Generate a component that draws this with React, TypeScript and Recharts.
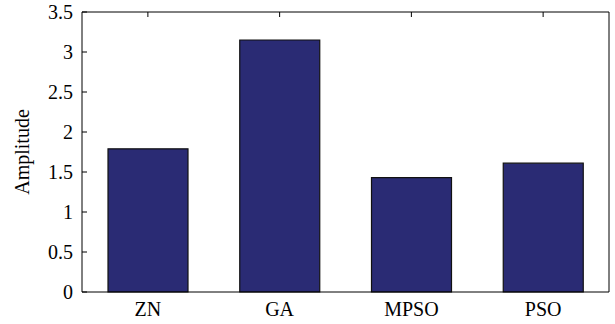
// @ts-nocheck
import { BarChart, Bar, XAxis, YAxis } from 'recharts';

const categories = ['ZN', 'GA', 'MPSO', 'PSO'];
const amplitudes = [1.79, 3.15, 1.43, 1.61];
const yTicks = [0, 0.5, 1, 1.5, 2, 2.5, 3, 3.5];

const data = categories.map((name, i) => ({ name, amplitude: amplitudes[i] }));

const FONT = '"Liberation Serif", "Times New Roman", serif';
const FONT_SIZE = 20;
const TICK_LEN = 5;
const Y_GAP = 9;

// left axis: label plus a short tick pointing into the plot
function LeftTick({ x, y, payload }) {
  const axisX = x + Y_GAP;
  return (
    <g>
      <line x1={axisX} x2={axisX + TICK_LEN} y1={y} y2={y} stroke="#000" />
      <text x={x} y={y} dy={7} textAnchor="end" fontSize={FONT_SIZE} fill="#000" fontFamily={FONT}>
        {payload.value}
      </text>
    </g>
  );
}

function RightTick({ x, y }) {
  return <line x1={x - TICK_LEN} x2={x} y1={y} y2={y} stroke="#000" />;
}

function TopTick({ x, y }) {
  return <line x1={x} x2={x} y1={y} y2={y + TICK_LEN} stroke="#000" />;
}

function BottomTick({ x, y, payload }) {
  return (
    <text x={x} y={y} dy={14} textAnchor="middle" fontSize={FONT_SIZE} fill="#000" fontFamily={FONT}>
      {payload.value}
    </text>
  );
}

function YLabel({ viewBox }) {
  const cy = viewBox.y + viewBox.height / 2;
  return (
    <text
      transform={`translate(29, ${cy}) rotate(-90)`}
      textAnchor="middle"
      fontSize={FONT_SIZE}
      fill="#000"
      fontFamily={FONT}
    >
      Amplitude
    </text>
  );
}

export default function App() {
  return (
    <div style={{ position: 'absolute', left: 0, top: 0, width: 615, height: 324, background: '#fff', fontFamily: FONT }}>
      <BarChart width={615} height={324} data={data} margin={{ top: 11, right: 5, bottom: 0, left: 0 }}>
        <XAxis
          dataKey="name"
          xAxisId="bottom"
          height={32}
          tickSize={0}
          tickMargin={10}
          tickLine={false}
          axisLine={{ stroke: '#000' }}
          tick={BottomTick}
          interval={0}
        />
        <XAxis
          dataKey="name"
          xAxisId="top"
          orientation="top"
          height={1}
          tickSize={0}
          tickMargin={0}
          tickLine={false}
          axisLine={{ stroke: '#000' }}
          tick={TopTick}
          interval={0}
        />
        <YAxis
          yAxisId="left"
          width={82}
          domain={[0, 3.5]}
          ticks={yTicks}
          tickSize={0}
          tickMargin={Y_GAP}
          tickLine={false}
          axisLine={{ stroke: '#000' }}
          tick={LeftTick}
          interval={0}
          label={{ content: YLabel }}
        />
        <YAxis
          yAxisId="right"
          orientation="right"
          width={1}
          domain={[0, 3.5]}
          ticks={yTicks}
          tickSize={0}
          tickMargin={0}
          tickLine={false}
          axisLine={{ stroke: '#000' }}
          tick={RightTick}
          interval={0}
        />
        <Bar
          dataKey="amplitude"
          xAxisId="bottom"
          yAxisId="left"
          barSize={80}
          fill="#2a2b74"
          stroke="#111"
          strokeWidth={1.2}
          isAnimationActive={false}
        />
      </BarChart>
    </div>
  );
}
